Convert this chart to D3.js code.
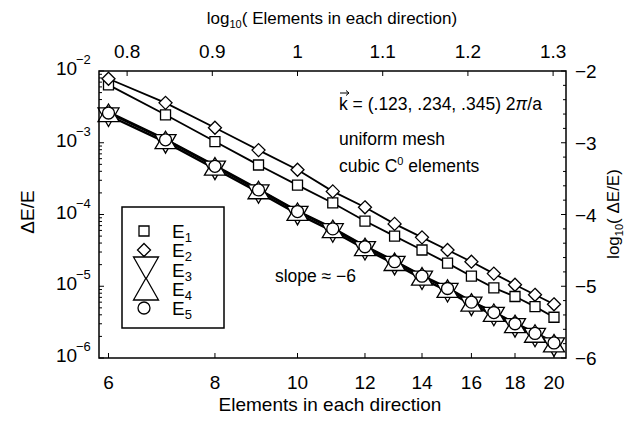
<!DOCTYPE html>
<html><head><meta charset="utf-8">
<script src="https://cdn.jsdelivr.net/npm/d3@7"></script>
<style>
body{margin:0;background:#fff;}
text{font-family:"Liberation Sans",Arial,Helvetica,sans-serif;fill:#000;}
</style></head>
<body>
<svg id="c" width="634" height="421"></svg>
<script>
// ---- data ----
const elements = [6,7,8,9,10,11,12,13,14,15,16,17,18,19,20];
const E1 = [6.4e-3,2.45e-3,1.04e-3,4.9e-4,2.57e-4,1.45e-4,8.1e-5,5.0e-5,3.2e-5,2.1e-5,1.38e-5,9.5e-6,7.2e-6,5.2e-6,3.7e-6];
const E2 = [7.8e-3,3.6e-3,1.62e-3,7.9e-4,4.2e-4,2.1e-4,1.26e-4,7.4e-5,4.8e-5,3.2e-5,2.2e-5,1.5e-5,1.05e-5,7.6e-6,5.6e-6];
const E3 = [2.4e-3,1.02e-3,4.35e-4,2.04e-4,1.02e-4,5.85e-5,3.3e-5,2.05e-5,1.28e-5,8.6e-6,5.55e-6,4.0e-6,2.78e-6,2.04e-6,1.5e-6];
const E4 = [2.68e-3,1.12e-3,4.8e-4,2.25e-4,1.12e-4,6.45e-5,3.62e-5,2.25e-5,1.41e-5,9.5e-6,6.1e-6,4.38e-6,3.06e-6,2.25e-6,1.65e-6];
const E5 = [2.6e-3,1.1e-3,4.7e-4,2.2e-4,1.1e-4,6.3e-5,3.55e-5,2.2e-5,1.38e-5,9.3e-6,6.0e-6,4.3e-6,3.0e-6,2.2e-6,1.62e-6];
const bottomTicks = [6,8,10,12,14,16,18,20];
const topTicks = [0.8,0.9,1,1.1,1.2,1.3];
const leftTicks = [1e-2,1e-3,1e-4,1e-5,1e-6];
const leftExps = ["\u22122","\u22123","\u22124","\u22125","\u22126"];
const rightTicks = [-2,-3,-4,-5,-6];
const seriesNames = ["1","2","3","4","5"];

// ---- layout ----
const L=99, R=566, T=71, B=358;
const svg = d3.select("#c");
const x = d3.scaleLog().domain([5.848,20.66]).range([L,R]);
const y = d3.scaleLog().domain([1e-6,1e-2]).range([B,T]);
const xTop = d3.scaleLinear().domain([Math.log10(5.848),Math.log10(20.66)]).range([L,R]);
const yRight = d3.scaleLinear().domain([-6,-2]).range([B,T]);

// ticks
const g = svg.append("g").attr("stroke","#000").attr("stroke-width",1);
bottomTicks.forEach(v=>{
  g.append("line").attr("x1",x(v)).attr("x2",x(v)).attr("y1",B).attr("y2",B-5);
});
topTicks.forEach(v=>{
  g.append("line").attr("x1",xTop(v)).attr("x2",xTop(v)).attr("y1",T).attr("y2",T+5);
});
for(let e=-6;e<=-2;e++){
  g.append("line").attr("x1",L).attr("x2",L+5).attr("y1",y(Math.pow(10,e))).attr("y2",y(Math.pow(10,e)));
  if(e<-2){
    for(let m=2;m<=9;m++){
      const v=m*Math.pow(10,e);
      g.append("line").attr("x1",L).attr("x2",L+3).attr("y1",y(v)).attr("y2",y(v));
    }
  }
}
for(let k=-6;k<=-1.999;k+=0.2){
  const len = Math.abs(k-Math.round(k))<1e-6?5:3;
  g.append("line").attr("x1",R).attr("x2",R-len).attr("y1",yRight(k)).attr("y2",yRight(k));
}

// lines
const line = (arr)=>d3.line().x((d,i)=>x(elements[i])).y(d=>y(d))(arr);
const lg = svg.append("g").attr("fill","none").attr("stroke","#000");
[E1,E2].forEach(a=>lg.append("path").attr("d",line(a)).attr("stroke-width",1.8));
[E3,E4,E5].forEach(a=>lg.append("path").attr("d",line(a)).attr("stroke-width",2.4));

// markers
const sq = (cx,cy,s)=>`M${cx-s},${cy-s}h${2*s}v${2*s}h${-2*s}Z`;
const dia = (cx,cy,s)=>`M${cx},${cy-s}L${cx+s},${cy}L${cx},${cy+s}L${cx-s},${cy}Z`;
const triUp = (cx,cy,w,t,b)=>`M${cx},${cy-t}L${cx+w},${cy+b}L${cx-w},${cy+b}Z`;
const triDn = (cx,cy,w,t,b)=>`M${cx-w},${cy-t}L${cx+w},${cy-t}L${cx},${cy+b}Z`;
const mg = svg.append("g").attr("fill","#fff").attr("stroke","#000").attr("stroke-width",1.3);
E1.forEach((v,i)=>mg.append("path").attr("d",sq(x(elements[i]),y(v),5)));
E2.forEach((v,i)=>mg.append("path").attr("d",dia(x(elements[i]),y(v),6.5)));
E3.forEach((v,i)=>mg.append("path").attr("d",triDn(x(elements[i]),y(v),10.5,7.5,11)));
E4.forEach((v,i)=>mg.append("path").attr("d",triUp(x(elements[i]),y(v),10.5,8,9.5)));
E5.forEach((v,i)=>mg.append("circle").attr("cx",x(elements[i])).attr("cy",y(v)).attr("r",6));

// frame
svg.append("rect").attr("x",L).attr("y",T).attr("width",R-L).attr("height",B-T)
  .attr("fill","none").attr("stroke","#000").attr("stroke-width",1.5);

// tick labels
const fs=19;
bottomTicks.forEach(v=>svg.append("text").attr("x",x(v)).attr("y",389).attr("text-anchor","middle").attr("font-size",fs).text(v));
topTicks.forEach(v=>svg.append("text").attr("x",xTop(v)).attr("y",58).attr("text-anchor","middle").attr("font-size",fs).text(v));
leftTicks.forEach((v,i)=>{
  const yy=y(v);
  svg.append("text").attr("x",56).attr("y",yy+4).attr("font-size",fs).text("10");
  svg.append("text").attr("x",76).attr("y",yy-7).attr("font-size",13).text(leftExps[i]);
});
rightTicks.forEach(v=>svg.append("text").attr("x",575).attr("y",yRight(v)+7).attr("font-size",fs).text(String(v).replace("-","\u2212")));

// axis titles
svg.append("text").attr("x",330).attr("y",411).attr("text-anchor","middle").attr("font-size",19).text("Elements in each direction");
const tt = svg.append("text").attr("x",332).attr("y",24).attr("text-anchor","middle").attr("font-size",17);
tt.append("tspan").text("log");
tt.append("tspan").attr("font-size",11).attr("dy",4).text("10");
tt.append("tspan").attr("dy",-4).text("( Elements in each direction)");
svg.append("text").attr("transform","translate(34,212) rotate(-90)").attr("text-anchor","middle").attr("font-size",19).text("\u0394E/E");
const rt = svg.append("text").attr("transform","translate(619,214) rotate(-90)").attr("text-anchor","middle").attr("font-size",17);
rt.append("tspan").text("log");
rt.append("tspan").attr("font-size",11).attr("dy",4).text("10");
rt.append("tspan").attr("dy",-4).text("( \u0394E/E)");

// annotations
const a1 = svg.append("text").attr("x",339).attr("y",110).attr("font-size",17.5);
a1.append("tspan").text("k");
a1.append("tspan").text(" = (.123, .234, .345) 2");
a1.append("tspan").attr("font-style","italic").text("\u03c0");
a1.append("tspan").text("/a");
svg.append("path").attr("d","M340,93 L349,93 M346,90.5 L349,93 L346,95.5").attr("stroke","#000").attr("fill","none").attr("stroke-width",1);
svg.append("text").attr("x",339).attr("y",145).attr("font-size",17.5).text("uniform mesh");
const a3 = svg.append("text").attr("x",339).attr("y",172).attr("font-size",17.5);
a3.append("tspan").text("cubic C");
a3.append("tspan").attr("font-size",11).attr("dy",-7).text("0");
a3.append("tspan").attr("dy",7).text(" elements");
svg.append("text").attr("x",356).attr("y",282).attr("text-anchor","end").attr("font-size",17.5).text("slope \u2248 \u22126");

// legend
svg.append("rect").attr("x",122).attr("y",207).attr("width",102).attr("height",121).attr("fill","#fff").attr("stroke","#000").attr("stroke-width",1.5);
const lgm = svg.append("g").attr("fill","#fff").attr("stroke","#000").attr("stroke-width",1.3);
lgm.append("path").attr("d",sq(144,231,5));
lgm.append("path").attr("d",dia(144,250,6.5));
lgm.append("path").attr("d",triDn(146,268,12.5,11,11));
lgm.append("path").attr("d",triUp(146,289,12.5,11,11));
lgm.append("circle").attr("cx",144).attr("cy",308).attr("r",6);
seriesNames.forEach((n,i)=>{
  const by = 238 + i*19.3;
  const t = svg.append("text").attr("x",172).attr("y",by).attr("font-size",19);
  t.append("tspan").text("E");
  t.append("tspan").attr("font-size",13).attr("dy",4).text(n);
});
</script>
</body></html>
